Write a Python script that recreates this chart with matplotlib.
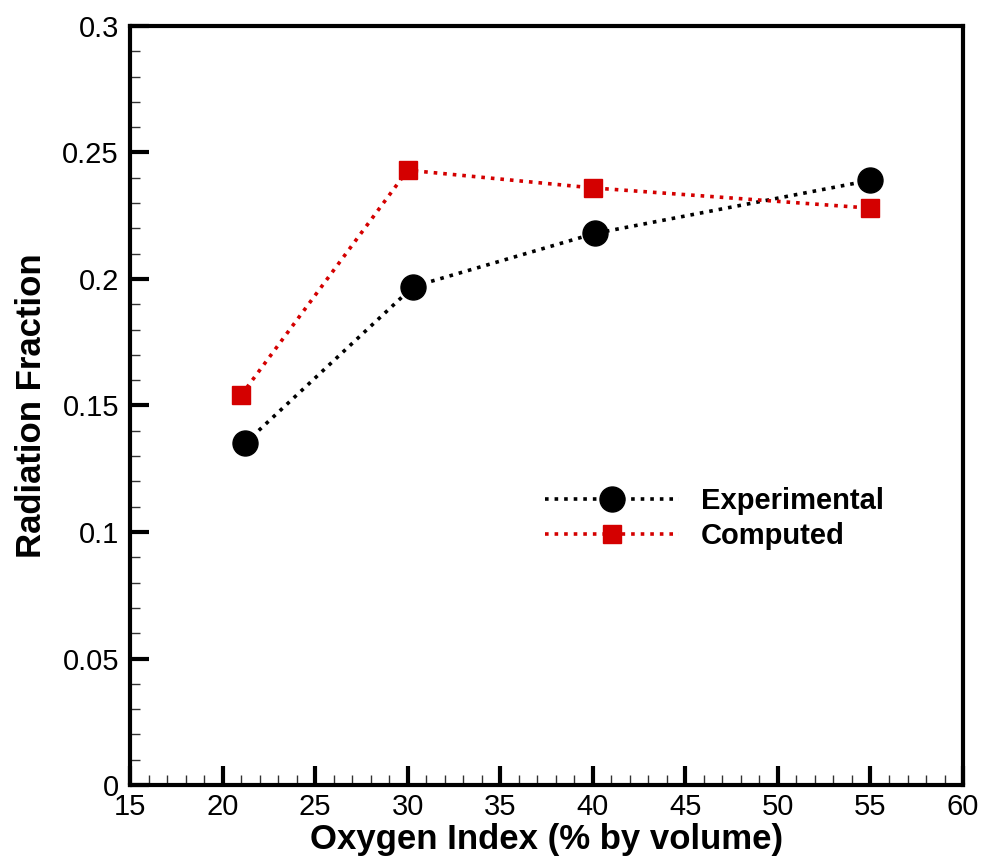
import matplotlib.pyplot as plt
from matplotlib.ticker import MultipleLocator, FuncFormatter

plt.rcParams["font.family"] = ["Liberation Sans", "DejaVu Sans"]

# Messwerte und Rechnung
exp_x = [21.2, 30.3, 40.1, 55.0]
exp_y = [0.135, 0.197, 0.218, 0.239]
comp_x = [21.0, 30.0, 40.0, 55.0]
comp_y = [0.154, 0.243, 0.236, 0.228]

red = "#d40000"

fig = plt.figure(figsize=(9.85, 8.6), dpi=100)
ax = fig.add_axes([0.132, 0.0872, 0.8457, 0.8826])

ax.plot(exp_x, exp_y, linestyle=":", color="black", linewidth=2.6,
        marker="o", markersize=18, label="Experimental", zorder=3)
ax.plot(comp_x, comp_y, linestyle=":", color=red, linewidth=2.6,
        marker="s", markersize=13, label="Computed", zorder=4)

ax.set_xlim(15, 60)
ax.set_ylim(0, 0.3)
ax.xaxis.set_major_locator(MultipleLocator(5))
ax.xaxis.set_minor_locator(MultipleLocator(1))
ax.yaxis.set_major_locator(MultipleLocator(0.05))
ax.yaxis.set_minor_locator(MultipleLocator(0.01))
ax.yaxis.set_major_formatter(FuncFormatter(lambda v, pos: f"{round(v, 3):g}"))

for side in ("left", "bottom", "right", "top"):
    ax.spines[side].set_linewidth(3)

ax.tick_params(which="both", direction="in", top=False, right=False,
               labelsize=21)
ax.tick_params(which="major", length=14, width=3)
ax.tick_params(which="minor", length=7, width=1, color="#333333")
ax.tick_params(axis="y", which="major", pad=8)
ax.tick_params(axis="x", which="major", pad=6)

ax.set_xlabel("Oxygen Index (% by volume)", fontsize=25, fontweight="bold",
              labelpad=1)
ax.set_ylabel("Radiation Fraction", fontsize=25, fontweight="bold",
              labelpad=10)

ax.legend(loc="center left", bbox_to_anchor=(0.498, 0.351), frameon=False,
          numpoints=1, handlelength=4.6, handletextpad=0.75,
          labelspacing=0.22, borderpad=0, borderaxespad=0,
          prop={"size": 21, "weight": "bold"})

fig.savefig("out.png", dpi=100)
